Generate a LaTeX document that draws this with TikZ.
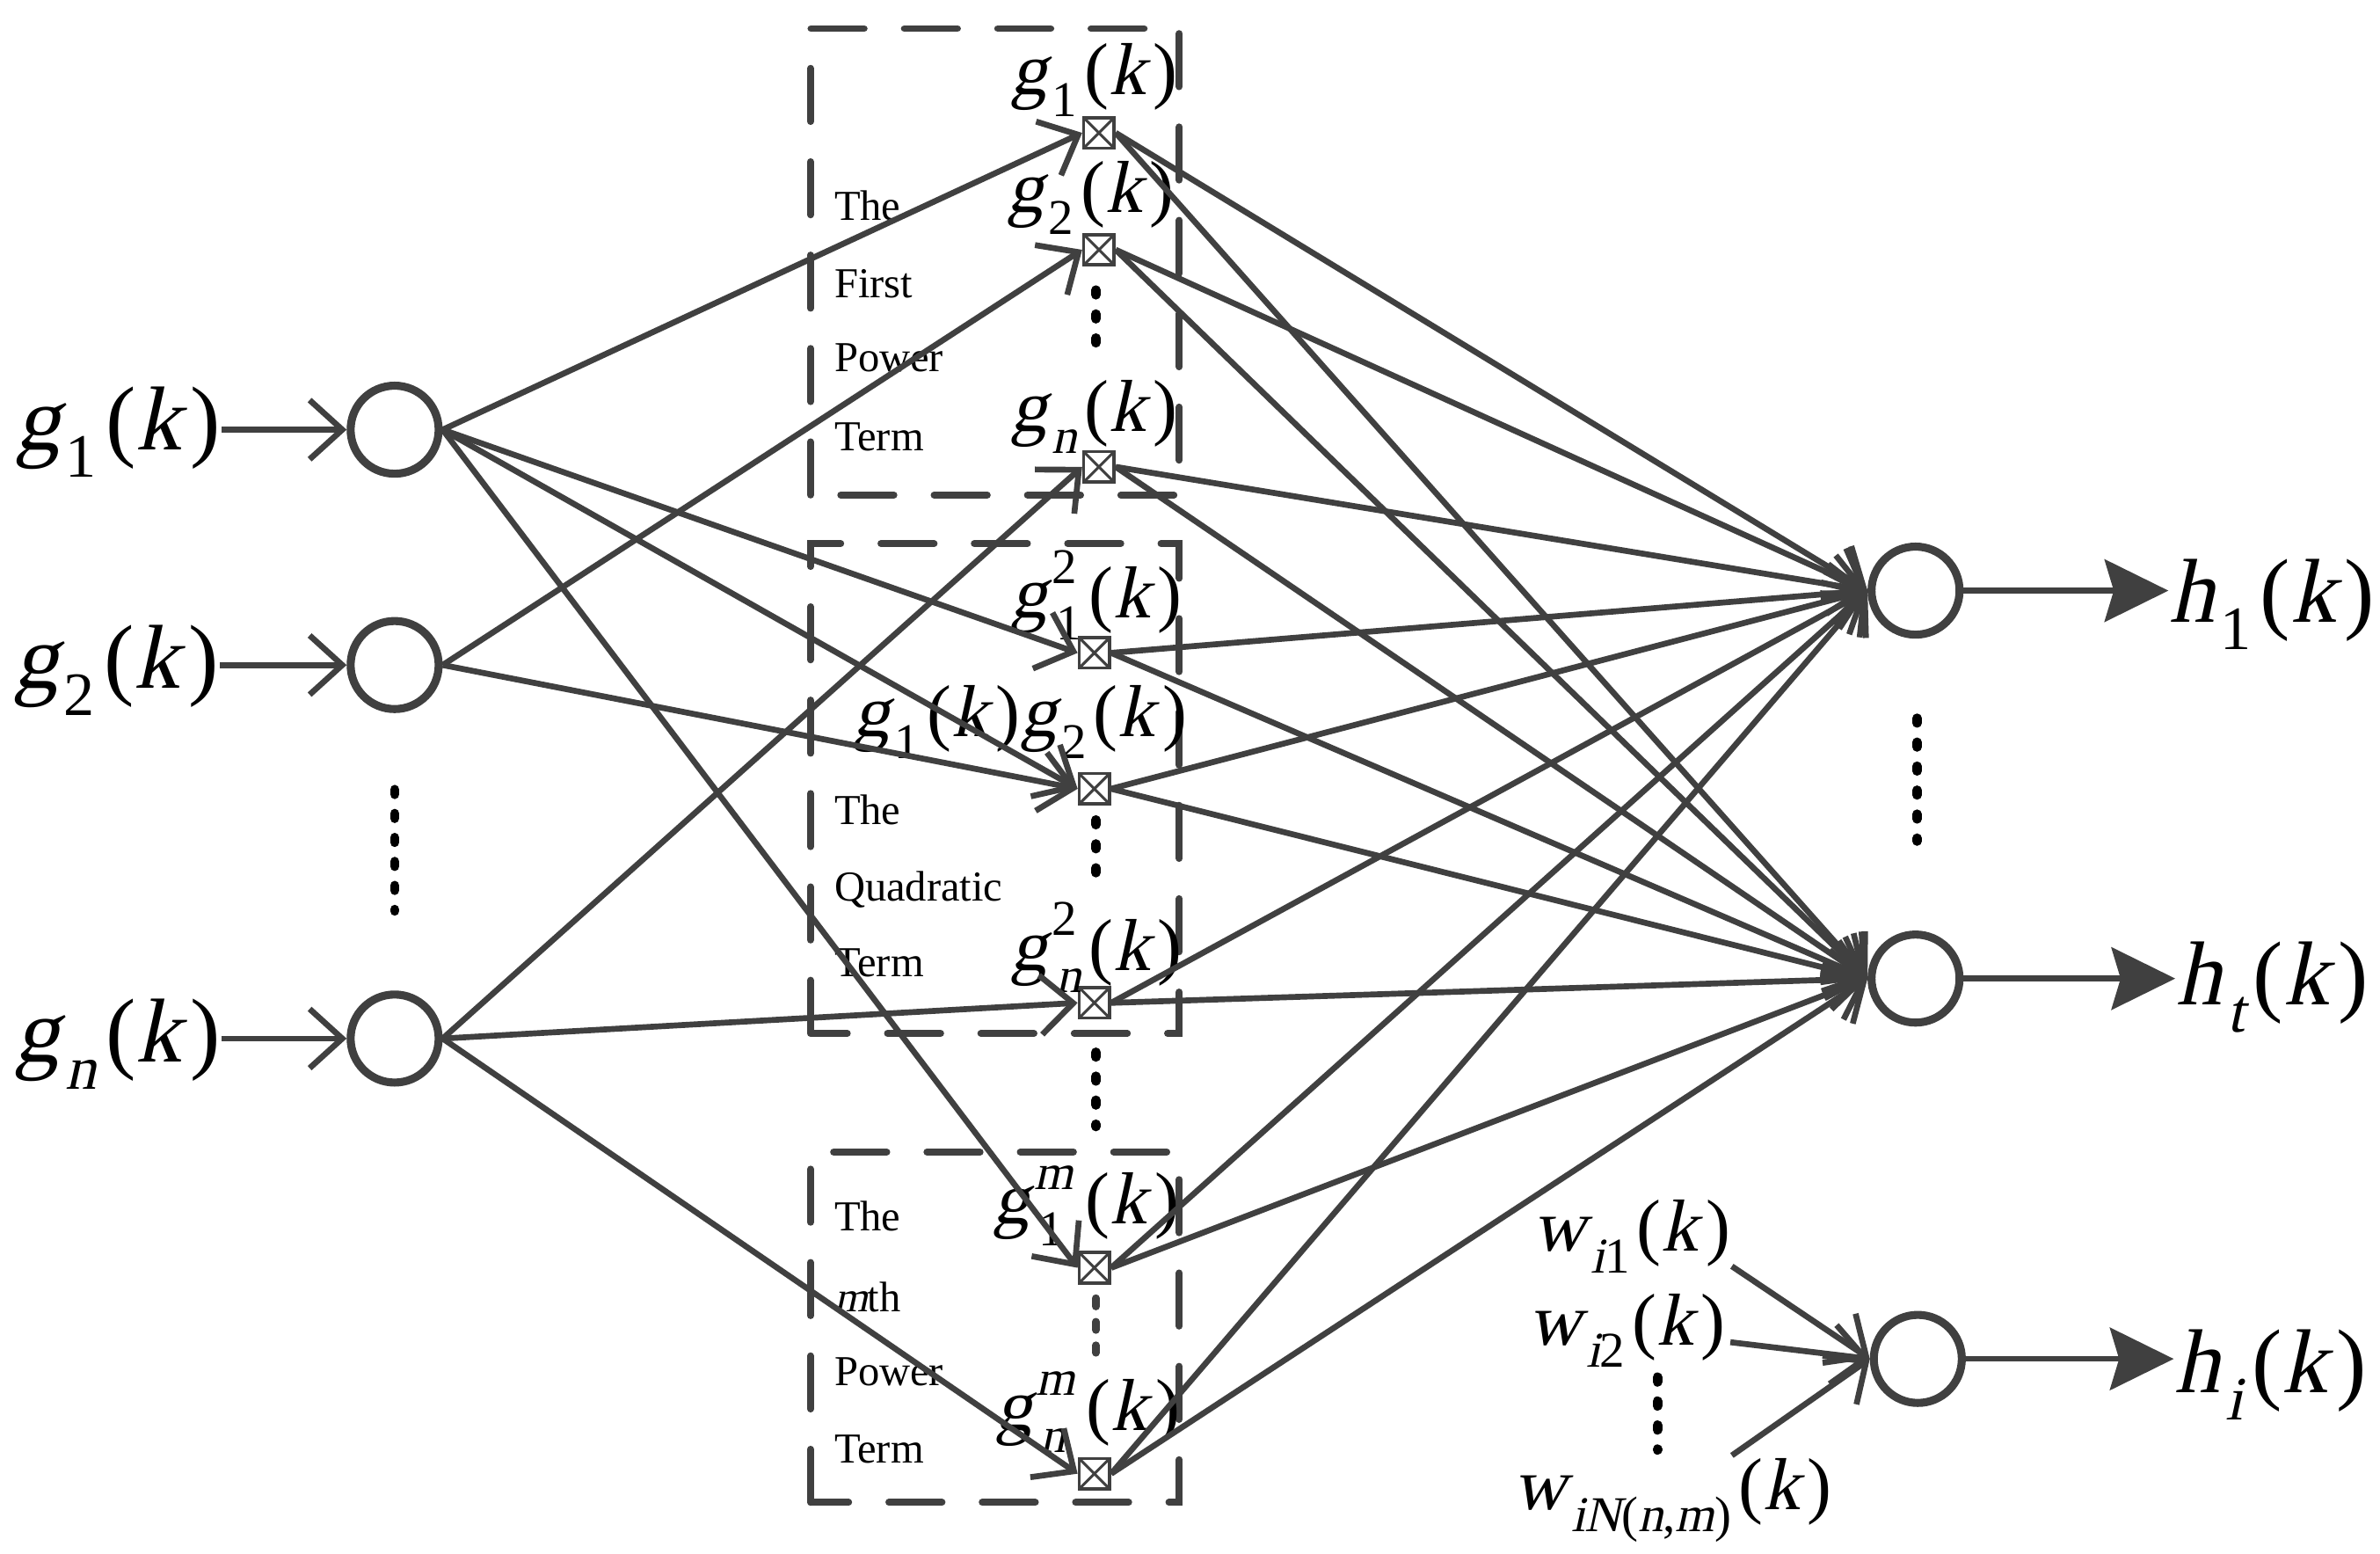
\documentclass[tikz,border=0pt]{standalone}
\usepackage{graphicx}
\usepackage{fontspec}
\setmainfont{Liberation Serif}
\newfontfamily\slfont{Liberation Serif}[FakeSlant=0.22]
\usetikzlibrary{arrows.meta}
\definecolor{lc}{HTML}{404040}
\newcommand\Ix[1]{{\slfont #1}}
\newcommand\Sb[1]{\hspace{0.06em}\raisebox{-0.3em}{\scalebox{0.68}{#1}}}
\newcommand\Sp[1]{\raisebox{0.47em}{\scalebox{0.68}{#1}}}
\newcommand\SpSb[2]{\hspace{0.06em}\rlap{\Sp{#2}}\Sb{#1}}
\newcommand\Kk{\hspace{0.1em}(\Ix{k}\hspace{0.1em})}
\tikzset{
  ln/.style={draw=lc, line width=1.1pt},
  arr/.style={ln, -{Straight Barb[length=2.15mm,width=3.9mm]}},
  outarr/.style={ln, -{Stealth[length=4.2mm,width=4.1mm,inset=0.6mm]}},
  neuron/.style={circle, draw=lc, line width=1.5pt, minimum size=5.8mm, inner sep=0pt},
  mult/.style={rectangle, draw=lc, line width=0.6pt, minimum size=2mm, inner sep=0pt, fill=white,
    path picture={\draw[draw=lc, line width=0.5pt]
      (path picture bounding box.north west) -- (path picture bounding box.south east)
      (path picture bounding box.south west) -- (path picture bounding box.north east);}},
  groupbox/.style={draw=lc, line width=1.3pt, line cap=round, dash pattern=on 3.5mm off 2.65mm},
  ellip/.style={draw=black, line width=0.62mm, line cap=round, dash pattern=on 0.32mm off 1.26mm},
  ellipg/.style={draw=lc, line width=0.5mm, line cap=round, dash pattern=on 0.55mm off 1mm},
  lbig/.style={font=\fontsize{17}{20}\selectfont, inner sep=0pt, anchor=base},
  lmid/.style={font=\fontsize{13.8}{16}\selectfont, inner sep=0pt, anchor=base},
  lsmall/.style={font=\fontsize{8}{9}\selectfont, inner sep=0pt, anchor=base west},
}
\begin{document}
\begin{tikzpicture}[x=0.1mm,y=-0.1mm]
\fill[white] (0,0) rectangle (1568,1023);
\useasboundingbox (0,0) rectangle (1568,1023);

% group boxes
\draw[groupbox] (534,326) -- (534,18.8) -- (777,18.8) -- (777,326) -- cycle;
\draw[groupbox] (534,680.6) -- (534,358) -- (777,358) -- (777,680.6) -- cycle;
\draw[groupbox] (534,989.5) -- (534,758.7) -- (777,758.7) -- (777,989.5) -- cycle;

% box texts
\node[lsmall] (t1a) at (549,145) {The};
\node[lsmall] (t1b) at (549,196) {First};
\node[lsmall] (t1c) at (549,245) {Power};
\node[lsmall] (t1d) at (549,297) {Term};
\node[lsmall] (t2a) at (549,543) {The};
\node[lsmall] (t2b) at (549,593.5) {Quadratic};
\node[lsmall] (t2c) at (549,643) {Term};
\node[lsmall] (t3a) at (549,810.6) {The};
\node[lsmall] (t3b) at (549,864) {\Ix{m}th};
\node[lsmall] (t3c) at (549,912.6) {Power};
\node[lsmall] (t3d) at (549,963.6) {Term};

% input neurons
\node[neuron] (I1) at (260,283) {};
\node[neuron] (I2) at (260,438) {};
\node[neuron] (In) at (260,684) {};
% output neurons
\node[neuron] (O1) at (1262,389) {};
\node[neuron] (Ot) at (1262,644.5) {};
\node[neuron] (O3) at (1263.5,895) {};

% multipliers
\node[mult] (m1) at (724,87.5) {};
\node[mult] (m2) at (724,164.5) {};
\node[mult] (mn) at (724,307.5) {};
\node[mult] (q11) at (721,430) {};
\node[mult] (q12) at (721,519.5) {};
\node[mult] (qnn) at (721,660.5) {};
\node[mult] (p1) at (721,835) {};
\node[mult] (pn) at (721,970.6) {};

% input labels
\node[lbig] (Lg1) at (77.6,296.5) {\Ix{g}\Sb{1}\Kk};
\node[lbig] (Lg2) at (76.5,453) {\Ix{g}\Sb{2}\Kk};
\node[lbig] (Lgn) at (77.5,699.5) {\Ix{g}\Sb{\Ix{n}}\Kk};
% output labels
\node[lbig] (Lh1) at (1497,410) {\Ix{h}\Sb{1}\Kk};
\node[lbig] (Lht) at (1497,662) {\Ix{h}\Sb{\Ix{t}}\Kk};
\node[lbig] (Lhi) at (1496,917) {\Ix{h}\Sb{\Ix{i}}\Kk};

% multiplier labels
\node[lmid] (Lm1) at (721,62) {\Ix{g}\Sb{1}\Kk};
\node[lmid] (Lm2) at (718.5,140) {\Ix{g}\Sb{2}\Kk};
\node[lmid] (Lmn) at (721,284) {\Ix{g}\Sb{\Ix{n}}\Kk};
\node[lmid] (Lq11) at (722.5,407) {\Ix{g}\SpSb{1}{2}\Kk};
\node[lmid] (Lq12) at (672,485) {\Ix{g}\Sb{1}\Kk\Ix{g}\Sb{2}\Kk};
\node[lmid] (Lqnn) at (722.5,639) {\Ix{g}\SpSb{\Ix{n}}{2}\Kk};
\node[lmid] (Lp1) at (715.5,806) {\Ix{g}\SpSb{1}{\Ix{m}}\hspace{0.2em}\Kk};
\node[lmid] (Lpn) at (716.5,942) {\Ix{g}\SpSb{\Ix{n}}{\Ix{m}}\hspace{0.18em}\Kk};

% weight labels
\node[lmid] (Lw1) at (1075,824) {\Ix{w}\Sb{\Ix{i}1}\Kk};
\node[lmid] (Lw2) at (1072,886) {\Ix{w}\Sb{\Ix{i}2}\Kk};
\node[lmid] (LwN) at (1102,994) {\Ix{w}\Sb{\Ix{iN}(\Ix{n},\Ix{m})}\Kk};
\coordinate (wa) at (1141,834);
\coordinate (wb) at (1140,884);
\coordinate (wc) at (1141,958.6);

% input arrows
\draw[arr] (Lg1.east |- I1.west) -- (I1.west);
\draw[arr] (Lg2.east |- I2.west) -- (I2.west);
\draw[arr] (Lgn.east |- In.west) -- (In.west);

% input to multipliers
\draw[arr] (I1.east) -- (m1.west);
\draw[arr] (I1.east) -- (q11.west);
\draw[arr] (I1.east) -- (q12.west);
\draw[arr] (I1.east) -- (p1.west);
\draw[arr] (I2.east) -- (m2.west);
\draw[arr] (I2.east) -- (q12.west);
\draw[arr] (In.east) -- (mn.west);
\draw[arr] (In.east) -- (qnn.west);
\draw[arr] (In.east) -- (pn.west);

% multipliers to outputs
\foreach \m in {m1,m2,mn,q11,q12,qnn,p1,pn}{
  \draw[arr] (\m.east) -- (O1.west);
  \draw[arr] (\m.east) -- (Ot.west);
}
% weights to output i
\draw[arr] (wa) -- (O3.west);
\draw[arr] (wb) -- (O3.west);
\draw[arr] (wc) -- (O3.west);

% outputs
\draw[outarr] (O1.east) -- (Lh1.west |- O1.east);
\draw[outarr] (Ot.east) -- (Lht.west |- Ot.east);
\draw[outarr] (O3.east) -- (Lhi.west |- O3.east);

% ellipsis dots
\draw[ellip] (260,520) -- (260,600);
\draw[ellip] (1263,473) -- (1263,554);
\draw[ellip] (722,191) -- (722,237);
\draw[ellip] (722,540) -- (722,586);
\draw[ellip] (722,693) -- (722,742);
\draw[ellipg] (722,855) -- (722,891);
\draw[ellip] (1092,907) -- (1092,955);
\end{tikzpicture}
\end{document}
